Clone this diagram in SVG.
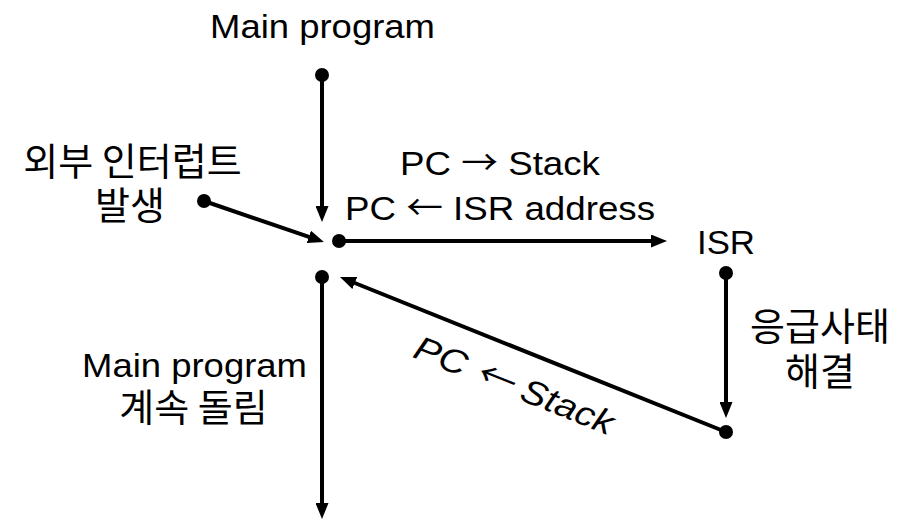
<svg xmlns="http://www.w3.org/2000/svg" width="903" height="521" viewBox="0 0 903 521">
<style>
.t{font-family:"Liberation Sans",Arial,"Noto Sans CJK KR",sans-serif;font-size:34px;fill:#000;text-anchor:middle}
.a{font-family:"Noto Sans CJK KR","DejaVu Sans",sans-serif}
.k{font-family:"Noto Sans CJK KR","Liberation Sans",sans-serif;font-size:38px;fill:#000;text-anchor:middle}
.ln{stroke:#000;stroke-width:4;fill:none}
</style>
<defs>
<marker id="ah" markerUnits="userSpaceOnUse" markerWidth="16" markerHeight="13" refX="4" refY="6.5" orient="auto">
<path d="M0,0 L16,6.5 L0,13 z" fill="#000"/>
</marker>
</defs>
<rect width="903" height="521" fill="#fff"/>
<g id="labels">
<text class="t" x="322.5" y="38" textLength="225" lengthAdjust="spacingAndGlyphs">Main program</text>
<text class="k" x="132.5" y="175">외부 인터럽트</text>
<text class="k" x="130" y="219">발생</text>
<text class="t" x="500" y="175" textLength="200" lengthAdjust="spacingAndGlyphs">PC <tspan class="a">→</tspan> Stack</text>
<text class="t" x="500" y="220" textLength="310" lengthAdjust="spacingAndGlyphs">PC <tspan class="a">←</tspan> ISR address</text>
<text class="t" x="726" y="254" textLength="58" lengthAdjust="spacingAndGlyphs">ISR</text>
<text class="k" x="820" y="340">응급사태</text>
<text class="k" x="820" y="385">해결</text>
<text class="t" x="194.5" y="377" textLength="225" lengthAdjust="spacingAndGlyphs">Main program</text>
<text class="k" x="193.5" y="421">계속 돌림</text>
<text class="t" style="font-style:italic" transform="translate(510,396) rotate(21.8)" x="0" y="0" textLength="212" lengthAdjust="spacingAndGlyphs">PC <tspan class="a">←</tspan> Stack</text>
</g>
<g id="connectors" class="ln">
<line x1="322" y1="75" x2="322" y2="210" marker-end="url(#ah)"/>
<line x1="204" y1="201" x2="312.6" y2="238.1" marker-end="url(#ah)"/>
<line x1="339" y1="241" x2="655" y2="241" marker-end="url(#ah)"/>
<line x1="726" y1="273" x2="726" y2="406" marker-end="url(#ah)"/>
<line x1="726" y1="432" x2="351.1" y2="281.5" marker-end="url(#ah)"/>
<line x1="322" y1="277" x2="322" y2="507" marker-end="url(#ah)"/>
</g>
<g id="dots" fill="#000">
<circle cx="322" cy="75" r="7"/>
<circle cx="204" cy="201" r="7"/>
<circle cx="339" cy="241" r="7"/>
<circle cx="322" cy="277" r="7"/>
<circle cx="726" cy="273" r="7"/>
<circle cx="726" cy="432" r="7"/>
</g>
</svg>
